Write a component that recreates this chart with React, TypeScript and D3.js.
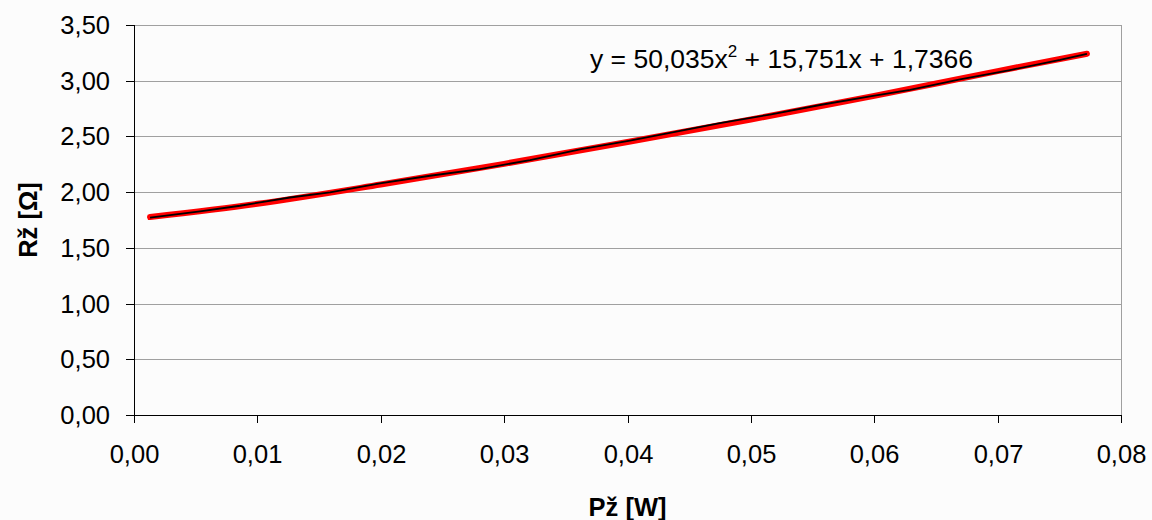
import React from "react";
import * as d3 from "d3";

const powerW = [
  0.0013, 0.00535, 0.00859, 0.01264, 0.01589, 0.01994, 0.02399, 0.02804,
  0.0321, 0.03615, 0.0402, 0.04344, 0.0475, 0.05155, 0.0556, 0.05966,
  0.0629, 0.06695, 0.071, 0.07506, 0.07724,
];
const resistance = [
  1.771, 1.827, 1.878, 1.952, 1.997, 2.078, 2.147, 2.207, 2.288, 2.384,
  2.462, 2.532, 2.62, 2.696, 2.782, 2.86, 2.917, 3.012, 3.096, 3.186, 3.24,
];

// polynomial trendline (order 2), points along the red curve
const trendX = [0.0013, 0.01, 0.02, 0.03, 0.04, 0.05, 0.06, 0.07, 0.07724];
const trendY = [1.776, 1.895, 2.068, 2.254, 2.45, 2.652, 2.864, 3.086, 3.242];

const xTicks = [0, 0.01, 0.02, 0.03, 0.04, 0.05, 0.06, 0.07, 0.08];
const yTicks = [0, 0.5, 1, 1.5, 2, 2.5, 3, 3.5];

const width = 1152;
const height = 520;
const margin = { top: 25, right: 31, bottom: 105, left: 134 };
const font = "Arial, 'Liberation Sans', sans-serif";

const fmt = (v: number, d: number) => v.toFixed(d).replace(".", ",");

const App = () => {
  const innerW = width - margin.left - margin.right;
  const innerH = height - margin.top - margin.bottom;

  const x = d3.scaleLinear().domain([0, 0.08]).range([0, innerW]);
  const y = d3.scaleLinear().domain([0, 3.5]).range([innerH, 0]);

  const line = d3
    .line<[number, number]>()
    .x((d) => x(d[0]))
    .y((d) => y(d[1]));
  const curve = d3
    .line<[number, number]>()
    .x((d) => x(d[0]))
    .y((d) => y(d[1]))
    .curve(d3.curveMonotoneX);

  const measured = powerW.map((p, i) => [p, resistance[i]] as [number, number]);
  const trend = trendX.map((p, i) => [p, trendY[i]] as [number, number]);

  return (
    <svg
      width={width}
      height={height}
      style={{ position: "absolute", left: 0, top: 0, background: "#fcfcfc" }}
      fontFamily={font}
    >
      <g transform={`translate(${margin.left},${margin.top})`}>
        {/* grid */}
        {yTicks.map((t) => (
          <line
            key={t}
            x1={0}
            x2={innerW}
            y1={Math.round(y(t)) + 0.5}
            y2={Math.round(y(t)) + 0.5}
            stroke="#a0a0a0"
          />
        ))}
        <line x1={innerW + 0.5} x2={innerW + 0.5} y1={0} y2={innerH} stroke="#a0a0a0" />

        {/* axes */}
        <line x1={0.5} x2={0.5} y1={0} y2={innerH} stroke="#000" />
        <line x1={0} x2={innerW} y1={innerH + 0.5} y2={innerH + 0.5} stroke="#000" />

        {yTicks.map((t) => (
          <g key={t} transform={`translate(0,${Math.round(y(t)) + 0.5})`}>
            <line x1={-8} x2={0} stroke="#000" />
            <text x={-24} dy="0.35em" textAnchor="end" fontSize={25.5} fill="#000">
              {fmt(t, 2)}
            </text>
          </g>
        ))}
        {xTicks.map((t) => (
          <g key={t} transform={`translate(${Math.round(x(t)) + 0.5},${innerH})`}>
            <line y1={0} y2={8} stroke="#000" />
            <text y={48} textAnchor="middle" fontSize={25.5} fill="#000">
              {fmt(t, 2)}
            </text>
          </g>
        ))}

        {/* series */}
        <path
          d={curve(trend) || ""}
          fill="none"
          stroke="#ff0000"
          strokeWidth={6}
          strokeLinecap="round"
        />
        <path d={line(measured) || ""} fill="none" stroke="#000" strokeWidth={1.8} />

        {/* trendline equation */}
        <text x={590 - margin.left} y={68 - margin.top} fontSize={26.5} fill="#000">
          y = 50,035x
          <tspan dy={-11} fontSize={17}>2</tspan>
          <tspan dy={11}> + 15,751x + 1,7366</tspan>
        </text>
      </g>

      {/* axis titles */}
      <text
        x={margin.left + innerW / 2}
        y={516}
        textAnchor="middle"
        fontSize={25.5}
        fontWeight="bold"
      >
        Pž [W]
      </text>
      <text
        transform={`translate(37,${margin.top + innerH / 2}) rotate(-90)`}
        textAnchor="middle"
        fontSize={25.5}
        fontWeight="bold"
      >
        Rž [Ω]
      </text>
    </svg>
  );
};

export default App;
